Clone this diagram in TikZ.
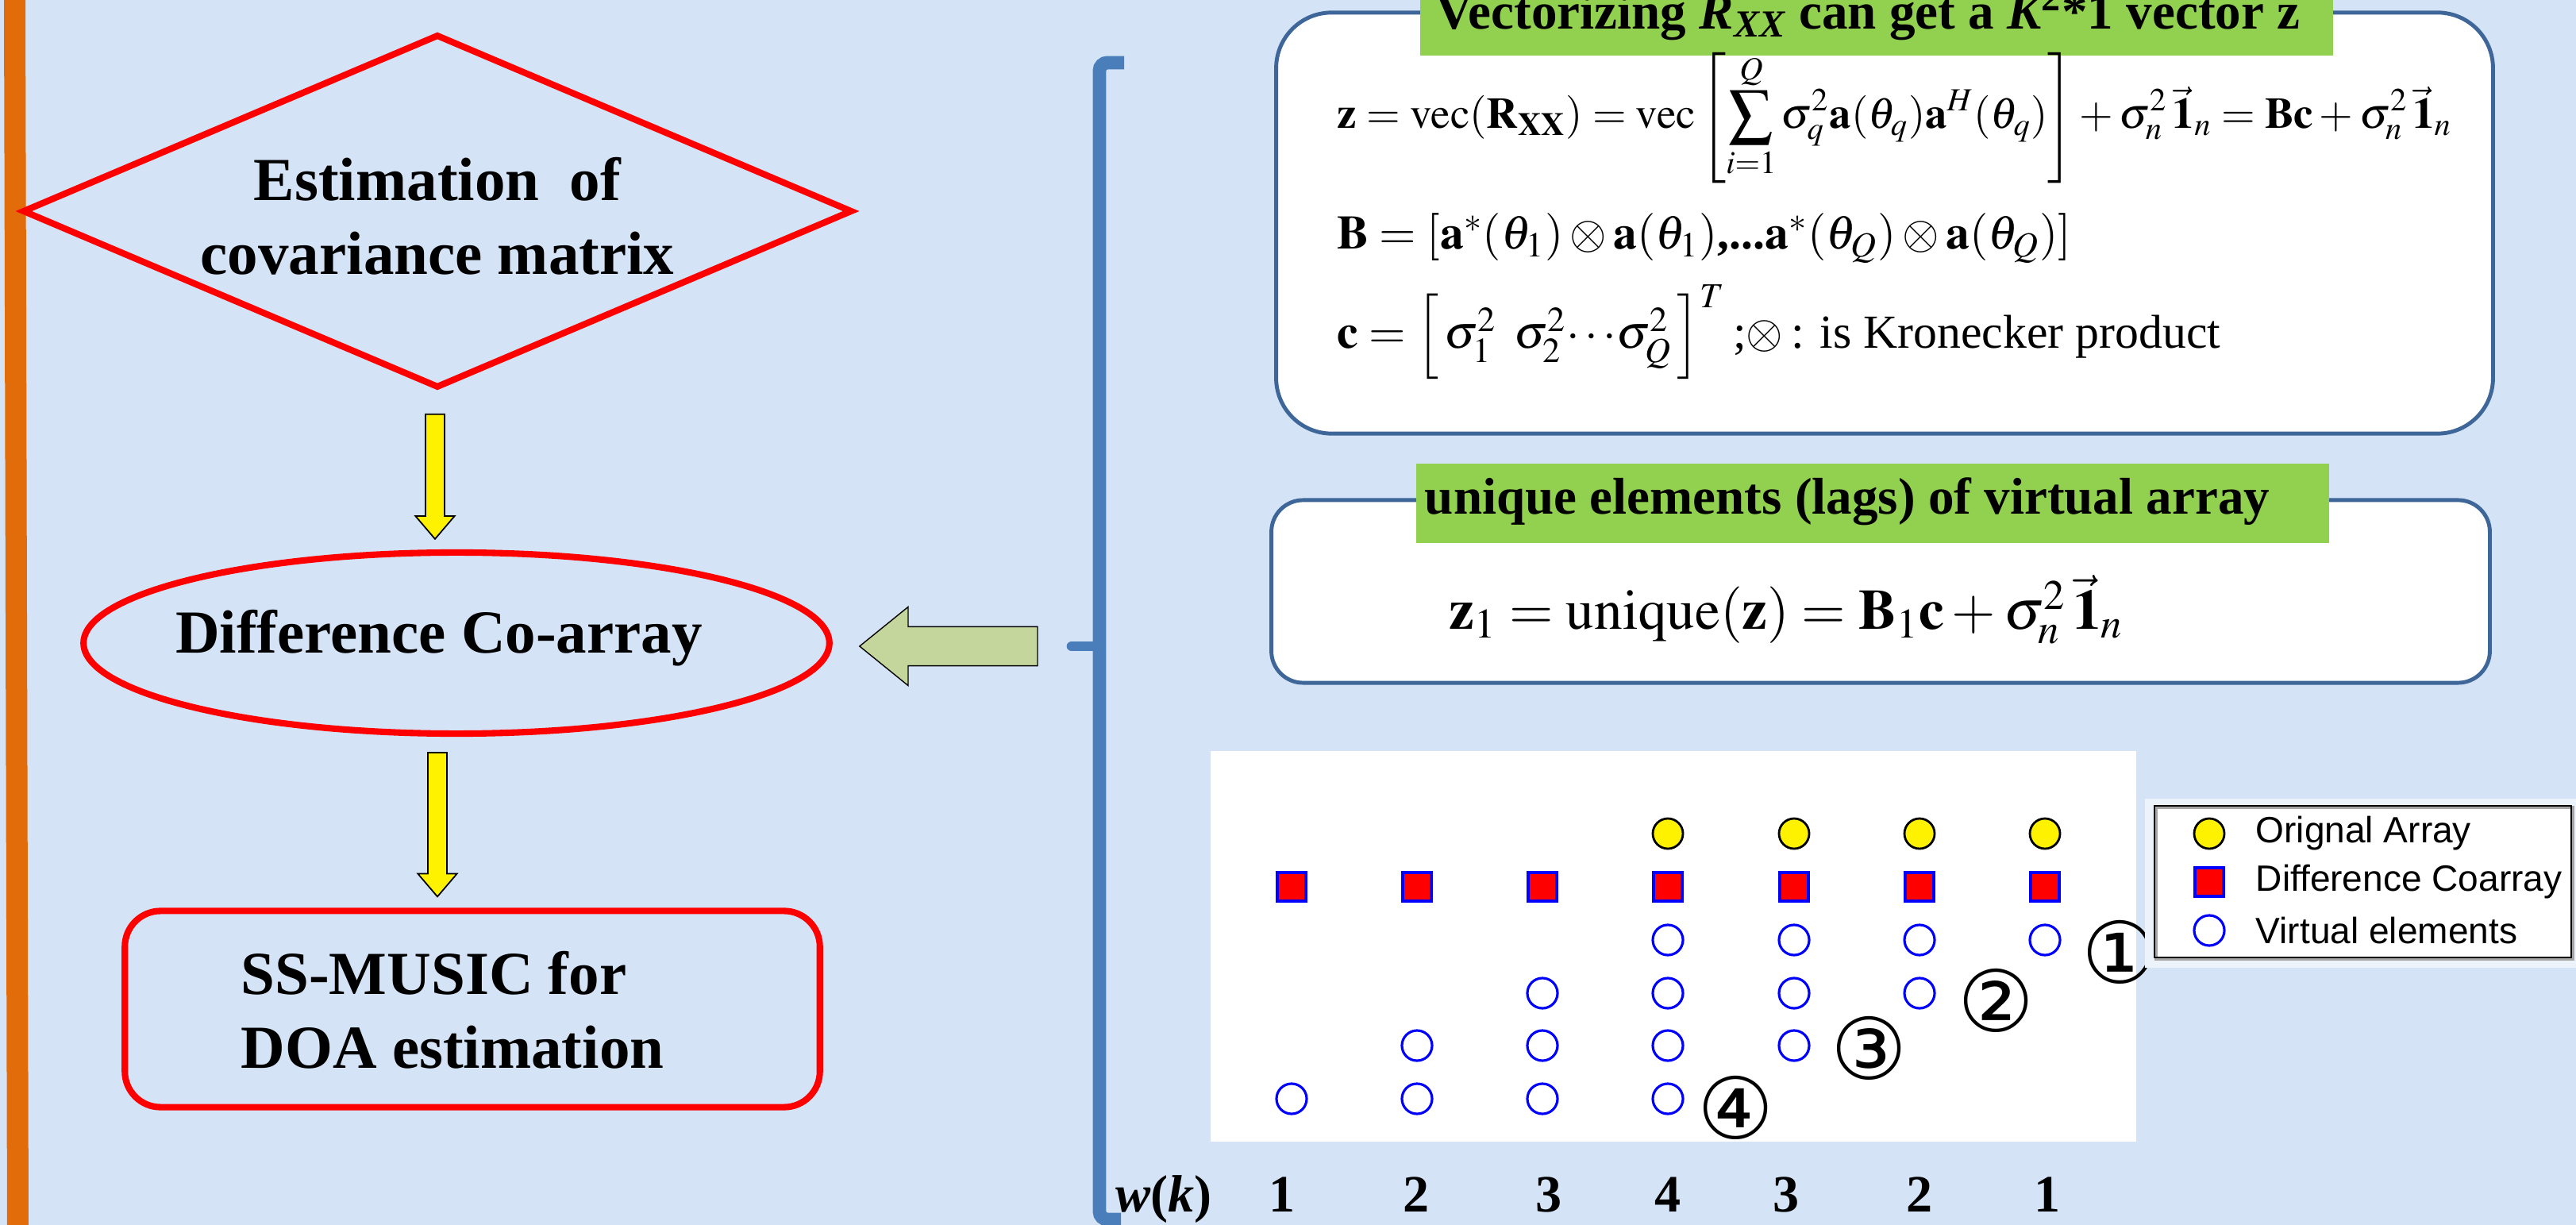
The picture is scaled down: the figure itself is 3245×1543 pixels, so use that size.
\documentclass[tikz,border=0pt]{standalone}
\usepackage{amsmath}
\usepackage{mathptmx}
\usepackage{fontspec}
\setmainfont{Liberation Serif}
\setsansfont{Liberation Sans}
\newfontfamily\dejavu{DejaVu Sans}
\usetikzlibrary{shapes.geometric,calc}
\definecolor{bgblue}{RGB}{212,228,246}
\definecolor{orangebar}{RGB}{227,108,10}
\definecolor{titlegreen}{RGB}{146,208,80}
\definecolor{boxblue}{RGB}{62,102,152}
\definecolor{brblue}{RGB}{74,126,187}
\definecolor{olive}{RGB}{196,214,155}
\definecolor{legbg}{RGB}{236,243,250}
\newcommand\downblock[2]{%
  \path let \p1=(#1), \p2=(#2) in
  [draw=black, fill=yellow, line width=0.5pt]
  (\x1-3.4pt,\y1) -- (\x1+3.4pt,\y1) -- (\x1+3.4pt,\y2+8.2pt) -- (\x1+7pt,\y2+8.2pt)
  -- (\x1,\y2) -- (\x1-7pt,\y2+8.2pt) -- (\x1-3.4pt,\y2+8.2pt) -- cycle;}
\newcommand\leftblock[2]{%
  \path let \p1=(#1), \p2=(#2) in
  [draw=black, fill=olive, line width=0.4pt]
  (\x1,\y1) -- (\x1+17.4pt,\y1+14.1pt) -- (\x1+17.4pt,\y1+7pt) -- (\x2,\y1+7pt)
  -- (\x2,\y1-7pt) -- (\x1+17.4pt,\y1-7pt) -- (\x1+17.4pt,\y1-14.1pt) -- cycle;}
\begin{document}
\begin{tikzpicture}[x=0.01cm,y=-0.01cm,
  flowtext/.style={font=\fontsize{21.9}{26.5}\selectfont\bfseries, inner sep=0pt, align=center},
  redline/.style={draw=red, line width=2.3pt},
  titlebar/.style={fill=titlegreen, inner sep=0pt},
  titletext/.style={font=\fontsize{18.5}{22}\selectfont\bfseries, inner sep=0pt, anchor=base},
  eqbox/.style={draw=boxblue, fill=white, line width=1.4pt, inner sep=0pt},
  eqtext/.style={font=\fontsize{17}{20}\selectfont, inner sep=0pt, anchor=base west},
  yel/.style={circle, fill=yellow, draw=black, line width=0.8pt, minimum size=0.38cm, inner sep=0pt},
  sq/.style={rectangle, fill=red, draw=blue, line width=1pt, minimum size=0.36cm, inner sep=0pt},
  vir/.style={circle, fill=white, draw=blue, line width=0.9pt, minimum size=0.38cm, inner sep=0pt},
  num/.style={font=\dejavu\fontsize{30.5}{32}\selectfont, inner sep=0pt},
  wk/.style={font=\fontsize{18.8}{22}\selectfont\bfseries, inner sep=0pt, anchor=base},
  legtext/.style={font=\sffamily\fontsize{13.1}{15}\selectfont, inner sep=0pt, anchor=west}]
\useasboundingbox (0,0) rectangle (3245,1543);
\clip (0,0) rectangle (3245,1543);
\fill[bgblue] (0,0) rectangle (3245,1543);
% orange bar
\fill[orangebar] (5,0) -- (32,0) -- (36,1543) -- (9,1543) -- cycle;
% ---- left flow chart
\node[diamond, redline, minimum width=10.45cm, minimum height=4.45cm, inner sep=0pt] (est) at (551,266) {};
\node[flowtext] (esttext) at (551,272) {Estimation\ \ of\\covariance matrix};
\node[ellipse, redline, minimum width=9.39cm, minimum height=2.28cm, inner sep=0pt] (dca) at (575,810) {};
\node[flowtext] (dcatext) at (553,804) {Difference Co-array};
\node[rectangle, redline, rounded corners=0.45cm, minimum width=8.75cm, minimum height=2.47cm, inner sep=0pt] (ss) at (595,1271) {};
\node[flowtext, align=left, anchor=west] (sstext) at (303,1272) {SS-MUSIC for\\DOA estimation};
\coordinate (a1top) at ($(est.south)+(-3,29)$);
\coordinate (a1tip) at ($(dca.north)+(-27,-13)$);
\downblock{a1top}{a1tip}
\coordinate (a2top) at ($(dca.south)+(-24,20)$);
\coordinate (a2tip) at ($(ss.north)+(-44,-14)$);
\downblock{a2top}{a2tip}
% ---- bracket
\coordinate (brtick) at (1350,814);
\draw[brblue, line width=4.8pt, rounded corners=0.1cm] (1416,79) -- (1385,79) -- (1385,1536) -- (1412,1536);
\draw[brblue, line width=3.6pt, line cap=round] (1385,814) -- (brtick);
\coordinate (gtail) at ($(brtick)+(-43,0)$);
\coordinate (gtip) at ($(dca.east)+(34,4)$);
\leftblock{gtip}{gtail}
% ---- top equation box
\node[eqbox, rounded corners=0.7cm, minimum width=15.32cm, minimum height=5.30cm] (topbox) at (2374,281) {};
\node[titlebar, minimum width=11.5cm, minimum height=1.1cm] (title1) at (2364,15) {};
\node[titletext] (title1text) at (2353,37) {Vectorizing {\itshape R}\textsubscript{\itshape XX} can get a {\itshape K}\textsuperscript{2}*1 vector z};
\node[eqtext, font=\fontsize{15.6}{19}\selectfont] (eq1) at (1684,162) {$\displaystyle \mathbf{z}=\mathrm{vec}(\mathbf{R}_{\mathbf{XX}})=\mathrm{vec}\left[\sum_{i=1}^{Q}\sigma_q^2\mathbf{a}(\theta_q)\mathbf{a}^H(\theta_q)\right]+\sigma_n^2\,\vec{\mathbf{1}}_n=\mathbf{Bc}+\sigma_n^2\,\vec{\mathbf{1}}_n$};
\node[eqtext] (eq2) at (1684,314) {$\mathbf{B}=[\mathbf{a}^*(\theta_1)\otimes\mathbf{a}(\theta_1)\mbox{\bfseries,...}\mathbf{a}^*(\theta_Q)\otimes\mathbf{a}(\theta_Q)]$};
\node[eqtext] (eq3) at (1684,439) {$\mathbf{c}=\left[\,\sigma_1^2\ \,\sigma_2^2\!\cdots\!\sigma_Q^2\,\right]^T$\,;$\otimes$\,: is Kronecker product};
% ---- second box
\node[eqbox, rounded corners=0.4cm, minimum width=15.34cm, minimum height=2.30cm] (uniqbox) at (2369,745) {};
\node[titlebar, minimum width=11.5cm, minimum height=1.0cm] (title2) at (2359,634) {};
\node[titletext] (title2text) at (2327,648) {unique elements (lags) of virtual array};
\node[inner sep=0pt, anchor=base west, font=\fontsize{20.3}{24}\selectfont] (eq4) at (1825,793) {$\mathbf{z}_1=\mathrm{unique}(\mathbf{z})=\mathbf{B}_1\mathbf{c}+\sigma_n^2\,\vec{\mathbf{1}}_n$};
% ---- plot
\fill[white] (1525,946) rectangle (2691,1438);
\foreach \i/\xx in {1/1627,2/1785,3/1943,4/2101,5/2260,6/2418,7/2576}{
  \node[sq] (s\i) at (\xx,1117) {};
}
\foreach \i/\xx in {4/2101,5/2260,6/2418,7/2576}{
  \node[yel] (y\i) at (\xx,1050) {};
  \node[vir] (ra\i) at (\xx,1184) {};
}
\foreach \i/\xx in {3/1943,4/2101,5/2260,6/2418}{
  \node[vir] (rb\i) at (\xx,1251) {};
}
\foreach \i/\xx in {2/1785,3/1943,4/2101,5/2260}{
  \node[vir] (rc\i) at (\xx,1317) {};
}
\foreach \i/\xx in {1/1627,2/1785,3/1943,4/2101}{
  \node[vir] (rd\i) at (\xx,1384) {};
}
\node[num] (n1) at (2671,1199) {①};
\node[num] (n2) at (2515,1260) {②};
\node[num] (n3) at (2355,1320) {③};
\node[num] (n4) at (2187,1395) {④};
% legend
\fill[legbg] (2702,1006) rectangle (3245,1219);
\draw[gray!70, line width=1.2pt, fill=white] (2716,1017) rectangle (3241,1208);
\draw[black, line width=0.7pt] (2714,1015) rectangle (3239,1206);
\node[yel] (ly) at (2783,1050) {};
\node[sq] (ls) at (2783,1111) {};
\node[vir] (lv) at (2783,1172) {};
\node[legtext] (lyt) at (2841,1050) {Orignal Array};
\node[legtext] (lst) at (2841,1111) {Difference Coarray};
\node[legtext] (lvt) at (2841,1172) {Virtual elements};
% w(k) row
\node[wk, anchor=base west] (wklab) at (1405,1526) {\itshape w\upshape(\itshape k\upshape)};
\foreach \i/\xx/\v in {1/1615/1,2/1784/2,3/1951/3,4/2101/4,5/2250/3,6/2418/2,7/2579/1}{
  \node[wk] (w\i) at (\xx,1526) {\v};
}
\end{tikzpicture}
\end{document}
